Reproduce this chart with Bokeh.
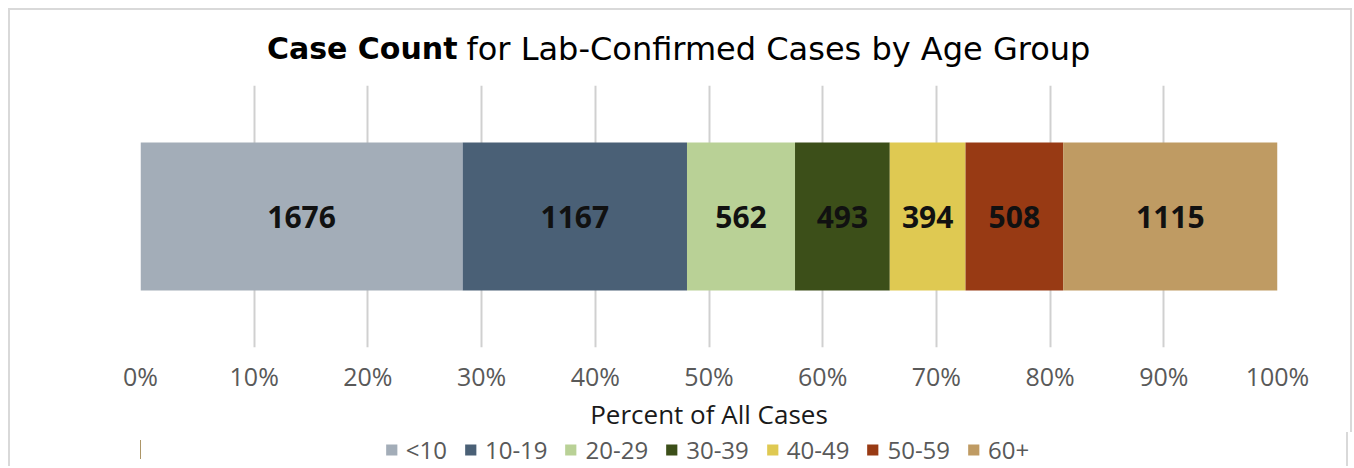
from bokeh.plotting import figure
from bokeh.layouts import column
from bokeh.models import Range1d, FactorRange, FixedTicker, NumeralTickFormatter, Legend, LegendItem, Label, ColumnDataSource
from bokeh.core.properties import value
from bokeh.embed import file_html
from bokeh.resources import INLINE

# ---- data ----
groups = ["<10", "10-19", "20-29", "30-39", "40-49", "50-59", "60+"]
counts = [1676, 1167, 562, 493, 394, 508, 1115]
colors = ["#A3ADB8", "#4A6076", "#B9D196", "#3C4F19", "#DFC952", "#983A14", "#BF9B63"]
tick_values = [0.0, 0.1, 0.2, 0.3, 0.4, 0.5, 0.6, 0.7, 0.8, 0.9, 1.0]
row_name = ["All Cases"]
title_bold = "Case Count"
title_rest = "for Lab-Confirmed Cases by Age Group"
x_axis_title = "Percent of All Cases"

total = sum(counts)
fractions = [c / total for c in counts]
rights = []
acc = 0.0
for f in fractions:
    acc += f
    rights.append(acc)
lefts = [0.0] + rights[:-1]
mids = [(l + r) / 2 for l, r in zip(lefts, rights)]

src = ColumnDataSource(dict(
    y=row_name * len(groups), left=lefts, right=rights, mid=mids,
    color=colors, label=[str(c) for c in counts], group=groups,
))

FONT = "Open Sans"
TFONT = "DejaVu Sans"
BORDER = "2px solid #d9d9d9"

p = figure(frame_width=1133, frame_height=260, x_range=Range1d(0, 1), y_range=FactorRange(*row_name),
           output_backend="svg", toolbar_location=None, y_axis_location=None,
           min_border_left=130, min_border_right=77, min_border_top=75, min_border_bottom=84)
p.styles = {"margin-left": "8px", "margin-top": "8px",
            "border-top": BORDER, "border-left": BORDER, "border-right": BORDER}
p.outline_line_color = None
p.background_fill_color = "white"
p.border_fill_color = "white"

r = p.hbar(y="y", left="left", right="right", height=0.565, fill_color="color",
           line_color=None, source=src)
p.text(x="mid", y="y", text="label", text_align="center", text_baseline="middle",
       text_font=value(FONT), text_font_style="bold", text_font_size="30px",
       text_color="#111111", source=src)

ax = p.xaxis[0]
ax.ticker = FixedTicker(ticks=tick_values)
ax.formatter = NumeralTickFormatter(format="0%")
ax.axis_line_color = None
ax.major_tick_line_color = None
ax.minor_tick_line_color = None
ax.major_tick_out = 0
ax.major_tick_in = 0
ax.minor_tick_out = 0
ax.minor_tick_in = 0
ax.major_label_text_font = FONT
ax.major_label_text_font_size = "25px"
ax.major_label_text_color = "#595959"
ax.major_label_standoff = 11
ax.axis_label = x_axis_title
ax.axis_label_text_font = FONT
ax.axis_label_text_font_style = "normal"
ax.axis_label_text_font_size = "26px"
ax.axis_label_text_color = "#1a1a1a"
ax.axis_label_standoff = 0

p.xgrid.grid_line_color = "#d0d0d0"
p.xgrid.grid_line_width = 2
p.ygrid.grid_line_color = None

# title: two labels stacked in the top panel, drawn on one line
p.add_layout(Label(x=317, y=37, x_units="screen", y_units="screen", text=title_bold,
                   text_align="right", text_baseline="middle", text_font=TFONT,
                   text_font_style="bold", text_font_size="30px", text_color="#000000"), "above")
p.add_layout(Label(x=326, y=2, x_units="screen", y_units="screen", text=title_rest,
                   text_align="left", text_baseline="middle", text_font=TFONT,
                   text_font_style="normal", text_font_size="32px", text_color="#000000"), "above")

# legend strip below the chart
q = figure(width=1340, height=34, x_range=Range1d(2, 3), y_range=FactorRange(*row_name),
           output_backend="svg", toolbar_location=None, x_axis_location=None, y_axis_location=None,
           min_border_left=26, min_border_right=0, min_border_top=0, min_border_bottom=0)
q.styles = {"margin-left": "8px", "border-left": BORDER, "border-right": BORDER}
q.outline_line_color = None
q.background_fill_color = "white"
q.border_fill_color = "white"
q.xgrid.grid_line_color = None
q.ygrid.grid_line_color = None
rq = q.hbar(y="y", left="left", right="right", height=0.565, fill_color="color",
            line_color=None, source=src)

items = [LegendItem(label=g, renderers=[rq], index=i) for i, g in enumerate(groups)]
legend = Legend(items=items, orientation="horizontal", location="center",
                border_line_color=None, background_fill_alpha=0,
                label_text_font=FONT, label_text_font_size="24px", label_text_color="#595959",
                glyph_width=14, glyph_height=14, label_standoff=8, spacing=16,
                padding=0, margin=0)
q.add_layout(legend, "center")

layout = column(p, q, spacing=0)
open("out.html", "w").write(file_html(layout, INLINE))
